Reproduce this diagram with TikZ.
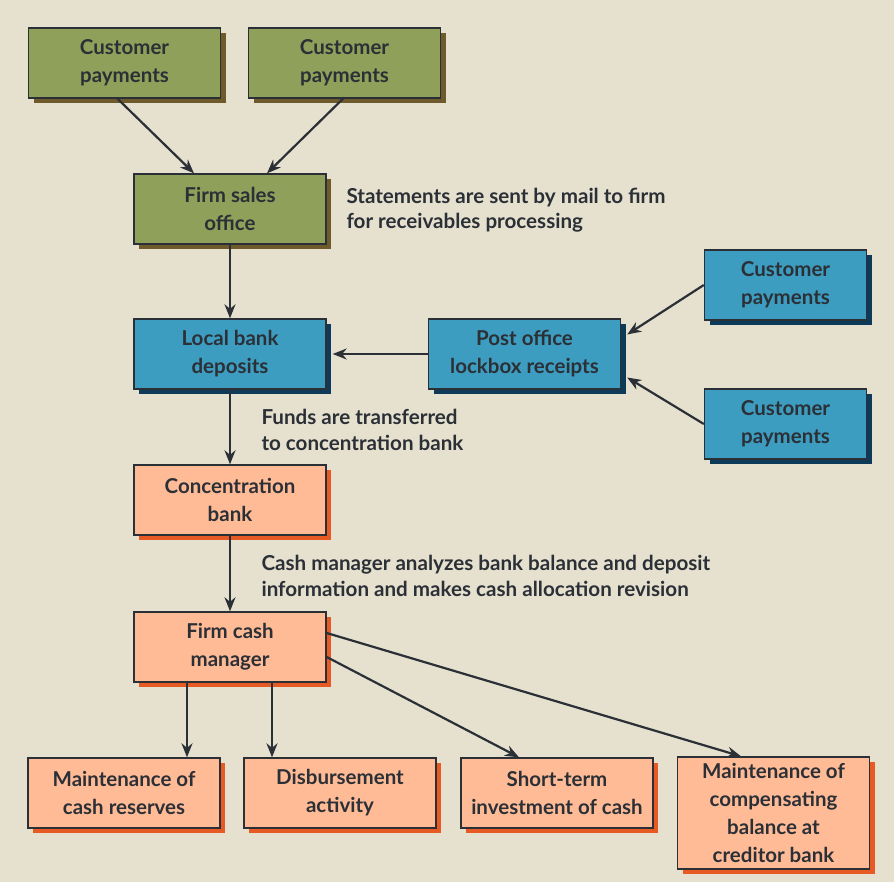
\documentclass[tikz,border=0pt]{standalone}
\usepackage{fontspec}
\setmainfont{Lato}
\usetikzlibrary{arrows.meta,shadows}

\definecolor{bgc}{HTML}{E6E1CF}
\definecolor{inkc}{HTML}{2B2F36}
\definecolor{greenc}{HTML}{8EA05A}
\definecolor{greensh}{HTML}{6E5A2A}
\definecolor{bluec}{HTML}{3D9DC0}
\definecolor{bluesh}{HTML}{0E3A5A}
\definecolor{orangec}{HTML}{FFBB96}
\definecolor{orangesh}{HTML}{E85A24}

\begin{document}
\begin{tikzpicture}[x=1pt,y=-1pt,
    font=\fontsize{20.5}{28}\selectfont\bfseries, text=inkc,
    box/.style={draw=inkc, line width=1.4pt, minimum width=192pt, minimum height=70pt,
        align=center, inner sep=2pt},
    greenbox/.style={box, fill=greenc,
        drop shadow={shadow xshift=5pt, shadow yshift=-5pt, fill=greensh, opacity=1}},
    bluebox/.style={box, fill=bluec,
        drop shadow={shadow xshift=5pt, shadow yshift=-5pt, fill=bluesh, opacity=1}},
    orangebox/.style={box, fill=orangec,
        drop shadow={shadow xshift=5pt, shadow yshift=-5pt, fill=orangesh, opacity=1}},
    arr/.style={draw=inkc, line width=2.2pt, -{Stealth[length=14pt,width=11pt]}},
    note/.style={anchor=west, align=left, font=\fontsize{20.6}{25.5}\selectfont\bfseries}]
        \fill[bgc] (0,0) rectangle (894,882);
        \useasboundingbox (0,0) rectangle (894,882);

        % payments coming in
        \node[greenbox] (cust1) at (124.5,63) {Customer\\payments};
        \node[greenbox] (cust2) at (344.5,63) {Customer\\payments};
        \node[greenbox] (sales) at (230,209) {Firm sales\\office};
        \node[bluebox] (local) at (230,354) {Local bank\\deposits};
        \node[bluebox] (lockbox) at (524.5,354) {Post office\\lockbox receipts};
        \node[bluebox, minimum width=162pt] (custR1) at (785.5,285) {Customer\\payments};
        \node[bluebox, minimum width=162pt] (custR2) at (785.5,424) {Customer\\payments};
        \node[orangebox] (conc) at (230,500) {Concentration\\bank};
        \node[orangebox] (cash) at (230,647) {Firm cash\\manager};

        % uses of cash
        \node[orangebox] (res) at (124,793) {Maintenance of\\cash reserves};
        \node[orangebox] (disb) at (340,793) {Disbursement\\activity};
        \node[orangebox] (inv) at (557,793) {Short-term\\investment of cash};
        \node[orangebox, minimum height=112pt] (comp) at (773.5,813)
            {Maintenance of\\compensating\\balance at\\creditor bank};

        \node[note] (stmt) at (343,210) {Statements are sent by mail to firm\\for receivables processing};
        \node[note] (funds) at (258,430) {Funds are transferred\\to concentration bank};
        \node[note] (alloc) at (258,576) {Cash manager analyzes bank balance and deposit\\information and makes cash allocation revision};

        \draw[arr] ([xshift=-7pt]cust1.south) -- ([xshift=-36pt]sales.north);
        \draw[arr] ([xshift=-1.5pt]cust2.south) -- ([xshift=37pt]sales.north);
        \draw[arr] (sales.south) -- (local.north);
        \draw[arr] (lockbox.west) -- ([xshift=6pt]local.east);
        \draw[arr] (custR1.west) -- ([xshift=6pt,yshift=19.5pt]lockbox.east);
        \draw[arr] (custR2.west) -- ([xshift=6pt,yshift=-23.5pt]lockbox.east);
        \draw[arr] (local.south) -- (conc.north);
        \draw[arr] (conc.south) -- (cash.north);
        \draw[arr] ([xshift=-43pt]cash.south) -- ([xshift=-43pt]cash.south |- res.north);
        \draw[arr] ([xshift=42pt]cash.south) -- ([xshift=42pt]cash.south |- disb.north);
        \draw[arr] ([yshift=-10pt]cash.east) -- ([xshift=-38pt]inv.north);
        \draw[arr] ([yshift=14pt]cash.east) -- ([xshift=-32.5pt]comp.north);
    \end{tikzpicture}
\end{document}
